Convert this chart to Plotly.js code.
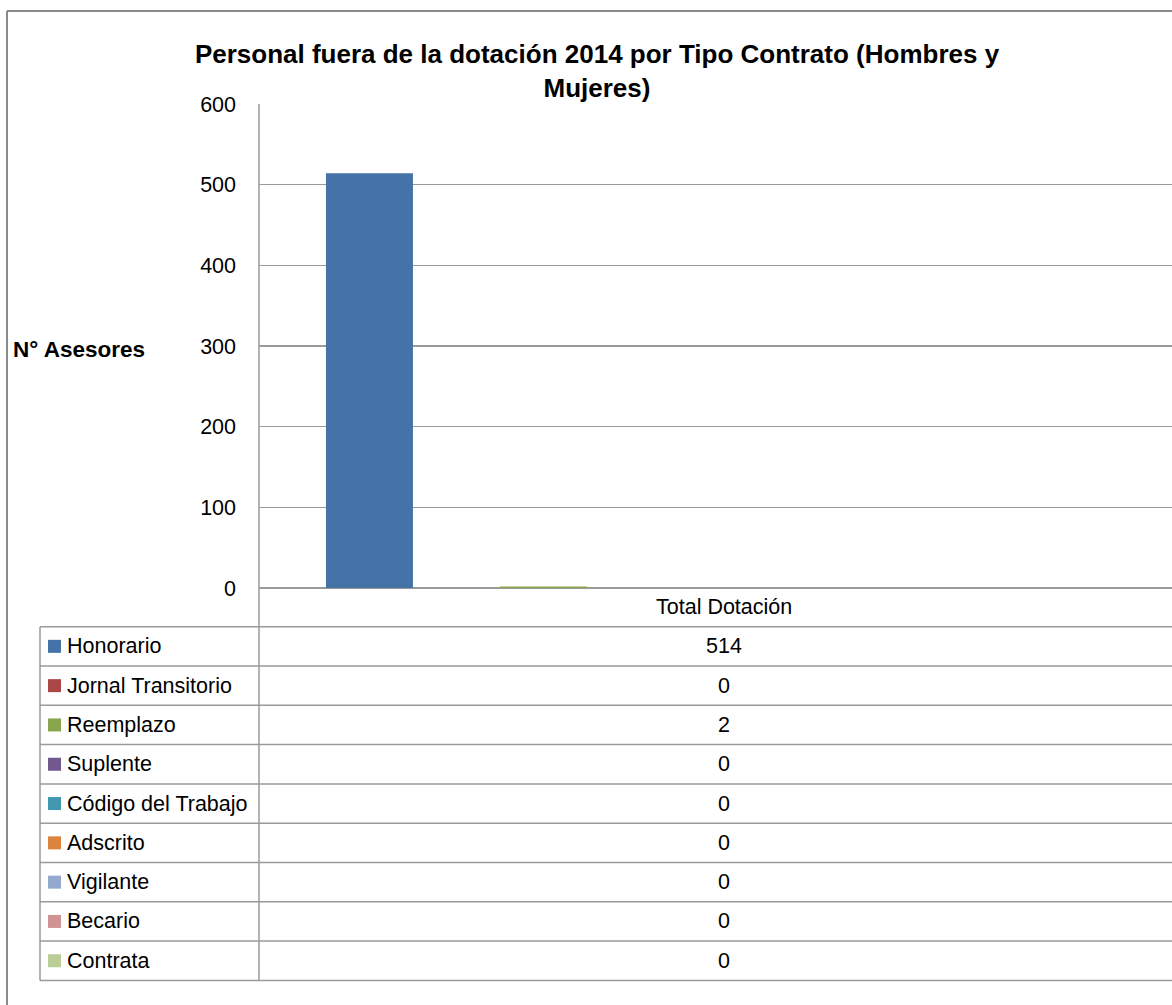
<!DOCTYPE html>
<html>
<head>
<meta charset="utf-8">
<script src="https://cdn.plot.ly/plotly-3.0.1.min.js"></script>
<style>
html,body{margin:0;padding:0;background:#fff;overflow:hidden;}
#chart{width:1172px;height:1005px;}
</style>
</head>
<body>
<div id="chart"></div>
<script>
// ---- data ----
var categories = ['Total Dotación'];
var seriesNames = ['Honorario','Jornal Transitorio','Reemplazo','Suplente','Código del Trabajo','Adscrito','Vigilante','Becario','Contrata'];
var seriesValues = [514, 0, 2, 0, 0, 0, 0, 0, 0];
var seriesColors = ['#4572A7','#AA4643','#89A54E','#71588F','#4198AF','#DB843D','#93A9CF','#D19392','#B9CD96'];
var yTicks = [0, 100, 200, 300, 400, 500, 600];
var chartTitle = 'Personal fuera de la dotación 2014 por Tipo Contrato (Hombres y<br>Mujeres)';
var yTitle = 'N° Asesores';

// ---- layout geometry (pixels) ----
var W = 1172, H = 1005;
var L = 259, R = 1172, T = 104, B = 588;
var pw = R - L, ph = B - T;
function px(x){ return (x - L) / pw; }
function py(y){ return (B - y) / ph; }

var FONT = 'Liberation Sans, Arial, sans-serif';
var gridCol = '#9a9a9a';
var TXT = 21.5;

var traces = seriesNames.map(function(n, i){
  return {
    type: 'bar', name: n, x: categories, y: [seriesValues[i]],
    marker: {color: seriesColors[i], line: {width: 0}},
    hoverinfo: 'name+y'
  };
});

var shapes = [];
var annotations = [];

// outer frame
shapes.push({type:'line', xref:'paper', yref:'paper', x0:px(7), x1:px(7), y0:py(11), y1:py(1010), line:{color:'#8a8a8a', width:2}});
shapes.push({type:'line', xref:'paper', yref:'paper', x0:px(7), x1:px(1180), y0:py(11), y1:py(11), line:{color:'#8a8a8a', width:2}});

// data table
var tTop = 626.7, rowH = 39.3, tLeft = 40;
var nRows = seriesNames.length;
var tBot = tTop + nRows * rowH;
shapes.push({type:'line', xref:'paper', yref:'paper', x0:0, x1:0, y0:py(T), y1:py(tBot), line:{color:gridCol, width:1.5}});
shapes.push({type:'line', xref:'paper', yref:'paper', x0:px(tLeft), x1:px(tLeft), y0:py(tTop), y1:py(tBot), line:{color:gridCol, width:1.5}});
for (var r = 0; r <= nRows; r++) {
  var yy = tTop + r * rowH;
  shapes.push({type:'line', xref:'paper', yref:'paper', x0:px(tLeft), x1:px(1180), y0:py(yy), y1:py(yy), line:{color:gridCol, width:1.5}});
}
var valX = 724;
annotations.push({xref:'paper', yref:'paper', x:px(valX), y:py((B + tTop) / 2), text:categories[0], showarrow:false, xanchor:'center', yanchor:'middle', font:{family:FONT, size:TXT, color:'#000'}});
for (var i = 0; i < nRows; i++) {
  var yc = tTop + (i + 0.5) * rowH;
  shapes.push({type:'rect', xref:'paper', yref:'paper', x0:px(48), x1:px(61), y0:py(yc - 6.5), y1:py(yc + 6.5), fillcolor:seriesColors[i], line:{width:0}});
  annotations.push({xref:'paper', yref:'paper', x:px(65), y:py(yc), text:seriesNames[i], showarrow:false, xanchor:'left', yanchor:'middle', font:{family:FONT, size:TXT, color:'#000'}});
  annotations.push({xref:'paper', yref:'paper', x:px(valX), y:py(yc), text:String(seriesValues[i]), showarrow:false, xanchor:'center', yanchor:'middle', font:{family:FONT, size:TXT, color:'#000'}});
}
annotations.push({xref:'paper', yref:'paper', x:px(11), y:py(349), text:'<b>' + yTitle + '</b>', showarrow:false, xanchor:'left', yanchor:'middle', font:{family:FONT, size:22.5, color:'#000'}});

var layout = {
  width: W, height: H,
  margin: {l: L, r: W - R, t: T, b: H - B, pad: 0},
  paper_bgcolor: '#fff', plot_bgcolor: '#fff',
  showlegend: false,
  barmode: 'group', bargap: 0.146, bargroupgap: 0,
  title: {text: '<b>' + chartTitle + '</b>', x: 597 / W, xref: 'container', xanchor: 'center', y: 1 - 63 / H, yref: 'container', yanchor: 'top', font: {family: FONT, size: 26, color: '#000'}},
  xaxis: {type: 'category', range: [-0.5, 0.4956], showticklabels: false, showgrid: false, zeroline: false, showline: false, fixedrange: true},
  yaxis: {range: [0, 600], tickvals: yTicks, ticktext: yTicks.map(String), showgrid: true, gridcolor: gridCol, gridwidth: 1.5, zeroline: true, zerolinecolor: gridCol, zerolinewidth: 1.5, showline: false, ticks: '', ticklabelstandoff: 22, tickfont: {family: FONT, size: TXT, color: '#000'}, fixedrange: true},
  shapes: shapes,
  annotations: annotations
};

Plotly.newPlot('chart', traces, layout, {displayModeBar: false, staticPlot: true});
</script>
</body>
</html>
